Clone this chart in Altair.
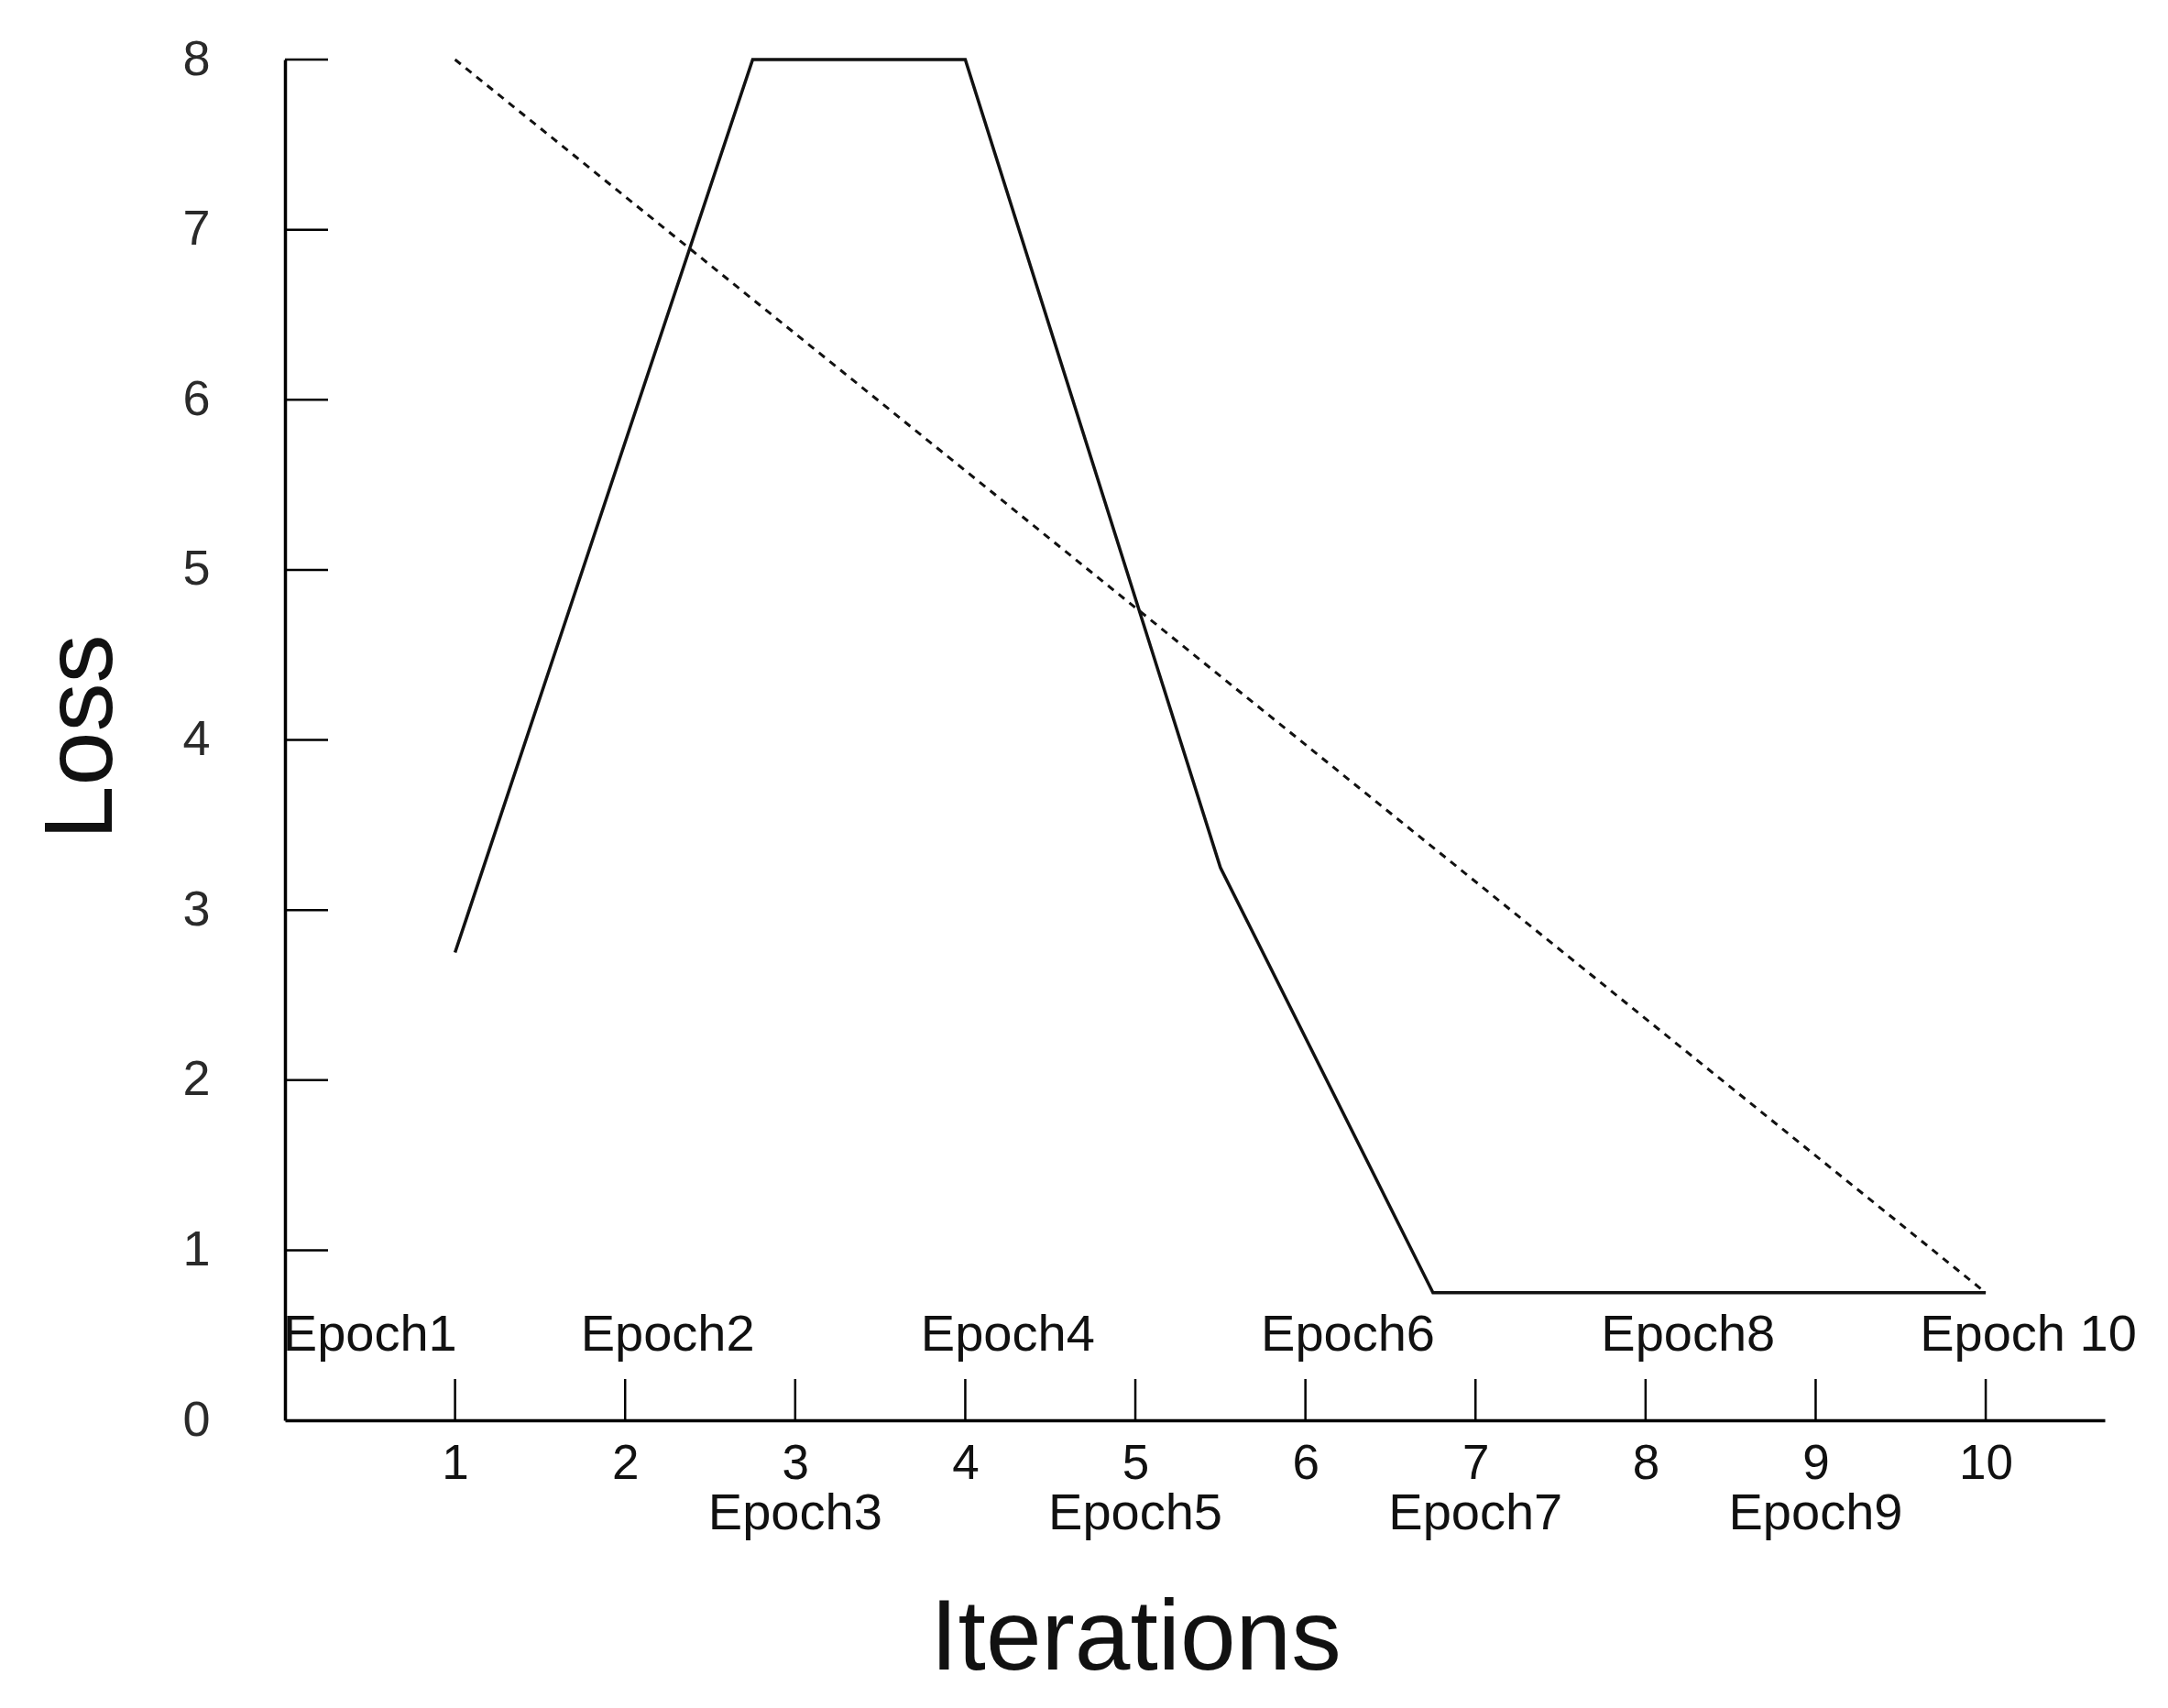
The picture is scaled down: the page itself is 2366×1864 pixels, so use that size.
import altair as alt
import pandas as pd

# ---- data ----
solid_x = [1, 2.75, 4, 5.5, 6.75, 10]
solid_y = [2.75, 8, 8, 3.25, 0.75, 0.75]

dashed_x = [1, 10]
dashed_y = [8, 0.75]

epoch_labels = ["Epoch1", "Epoch2", "Epoch3", "Epoch4", "Epoch5",
                "Epoch6", "Epoch7", "Epoch8", "Epoch9", "Epoch 10"]
epoch_x = [0.5, 2.25, 3, 4.25, 5, 6.25, 7, 8.25, 9, 10.25]
epoch_y = [0.5, 0.5, -0.55, 0.5, -0.55, 0.5, -0.55, 0.5, -0.55, 0.5]

x_tick_values = [1, 2, 3, 4, 5, 6, 7, 8, 9, 10]
y_tick_values = [0, 1, 2, 3, 4, 5, 6, 7, 8]
y_inner_ticks = [1, 2, 3, 4, 5, 6, 7, 8]

x_domain = [0, 10.7]
y_domain = [0, 8]

W = 1986
H = 1485
NARROW = "Liberation Sans Narrow, Arial Narrow, Liberation Sans, Arial"

solid_df = pd.DataFrame({"x": solid_x, "y": solid_y})
dashed_df = pd.DataFrame({"x": dashed_x, "y": dashed_y})
epoch_df = pd.DataFrame({"x": epoch_x, "y": epoch_y, "label": epoch_labels})
xt_df = pd.DataFrame({"x": x_tick_values})
yt_df = pd.DataFrame({"y": y_inner_ticks})

xscale = alt.Scale(domain=x_domain, nice=False, zero=False)
yscale = alt.Scale(domain=y_domain, nice=False, zero=False)

x_axis = alt.Axis(
    values=x_tick_values, ticks=False, grid=False, domain=True,
    domainColor="black", domainWidth=3.5,
    labelFont=NARROW, labelFontSize=53, labelColor="#111", labelPadding=21,
    title="Iterations", titleFont="Liberation Sans", titleFontSize=109,
    titleFontWeight="normal", titleColor="#111",
    titleX=928, titleY=271, titleBaseline="alphabetic", titleAlign="center",
    titleAngle=0,
)
y_axis = alt.Axis(
    values=y_tick_values, ticks=False, grid=False, domain=True,
    domainColor="black", domainWidth=3.5,
    labelFont=NARROW, labelFontSize=54, labelColor="#2a2a2a",
    labelPadding=82,
    title="Loss", titleFont="Liberation Sans", titleFontSize=106,
    titleFontWeight="normal", titleColor="#111",
    titleX=-190, titleY=739, titleAngle=270, titleBaseline="alphabetic",
    titleAlign="center",
)

X = alt.X("x:Q", scale=xscale, axis=x_axis)
Y = alt.Y("y:Q", scale=yscale, axis=y_axis)

solid = alt.Chart(solid_df).mark_line(color="#111", strokeWidth=3.5).encode(x=X, y=Y)

dashed = alt.Chart(dashed_df).mark_line(
    color="#111", strokeWidth=3, strokeDash=[8, 7]
).encode(x=X, y=Y)

x_ticks = alt.Chart(xt_df).mark_rule(color="black", strokeWidth=2.5).encode(
    x=X,
    y=alt.value(H),
    y2=alt.value(H - 45),
)

y_ticks = alt.Chart(yt_df).mark_rule(color="black", strokeWidth=2.5).encode(
    y=Y,
    x=alt.value(0),
    x2=alt.value(47),
)

epochs = alt.Chart(epoch_df).mark_text(
    font=NARROW, fontSize=56, color="#111", align="center", baseline="middle"
).encode(x=X, y=Y, text="label:N")

chart = alt.layer(solid, dashed, x_ticks, y_ticks, epochs).properties(
    width=W,
    height=H,
    autosize=alt.AutoSizeParams(type="none"),
    padding={"left": 303, "top": 57, "right": 61, "bottom": 306},
    background="white",
).configure_view(stroke=None)

chart.save("out.html", embed_options={"renderer": "svg", "actions": False})
